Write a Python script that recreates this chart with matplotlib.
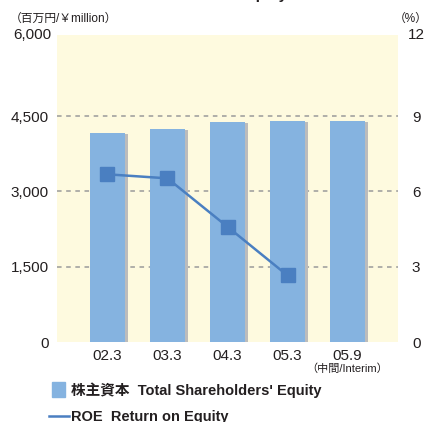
import numpy as np
import matplotlib.pyplot as plt
from matplotlib.patches import Rectangle
from matplotlib.lines import Line2D

plt.rcParams['font.family'] = ['Liberation Sans', 'Noto Sans CJK JP']

periods = ['02.3', '03.3', '04.3', '05.3', '05.9']
equity = [4170, 4250, 4380, 4400, 4400]     # 百万円
roe = [6.68, 6.52, 4.59, 2.65]              # %
left_ticks = [0, 1500, 3000, 4500, 6000]
right_ticks = [0, 3, 6, 9, 12]

bar_col = '#85b3e0'
shadow_col = '#bcbcbc'
line_col = '#4a7fc1'
bg_col = '#fefadf'
txt_col = '#231f20'

fig = plt.figure(figsize=(4.30, 4.22), dpi=100)
ax = fig.add_axes([57 / 430, 1 - 342 / 422, 341 / 430, 307 / 422])
ax.set_facecolor(bg_col)
ytop = 6115
ax.set_ylim(0, ytop)
ax.set_xlim(-0.84, 4.84)
x = np.arange(len(periods))

for g in left_ticks[1:-1]:
    ax.axhline(g, color='#9a9a9a', lw=1.1, ls=(0, (3, 3)), zorder=1)

ax.bar(x + 0.05, np.array(equity) - 20, width=0.583, color=shadow_col, zorder=2)
ax.bar(x, equity, width=0.583, color=bar_col, zorder=3)

for s in ax.spines.values():
    s.set_visible(False)
ax.set_xticks(x)
ax.set_xticklabels(periods, fontsize=11, color=txt_col)
ax.set_yticks(left_ticks[:-1])
ax.set_yticklabels(['0'] + ['{:,}'.format(v) for v in left_ticks[1:-1]],
                   fontsize=11, color=txt_col)
ax.tick_params(length=0, pad=6)
ax.tick_params(axis='x', pad=5)
ax.text(-0.016, 1.0, '{:,}'.format(left_ticks[-1]), transform=ax.transAxes,
        ha='right', va='center', fontsize=11, color=txt_col)

ax2 = ax.twinx()
ax2.set_ylim(0, 12 * ytop / 6000)
for s in ax2.spines.values():
    s.set_visible(False)
ax2.set_yticks(right_ticks[:-1])
ax2.set_yticklabels([str(v) for v in right_ticks[:-1]], fontsize=11, color=txt_col)
ax2.tick_params(length=0, pad=10)
ax2.text(1.03, 1.0, str(right_ticks[-1]), transform=ax.transAxes,
         ha='left', va='center', fontsize=11, color=txt_col)
ax2.plot(x[:len(roe)], roe, color=line_col, lw=1.8, marker='s', markersize=9.5,
         zorder=5)

ax.text(4, -0.088, '（中間/Interim）', transform=ax.get_xaxis_transform(),
        ha='center', va='center', fontsize=8, color=txt_col)

fig.text(10 / 430, 1 - 19 / 422, '（百万円/￥million）', fontsize=8.5, color=txt_col,
         va='center', ha='left')
fig.text(428 / 430, 1 - 19 / 422, '（%）', fontsize=8.5, color=txt_col,
         va='center', ha='right')
fig.text(287 / 430, 1 + 1.5 / 422, "Total Shareholders' Equity", fontsize=11,
         fontweight='bold', ha='right', va='baseline', color=txt_col)

# legend
fig.patches.append(Rectangle((52 / 430, 1 - 397 / 422), 13 / 430, 15 / 422,
                             transform=fig.transFigure, color=bar_col))
fig.text(71 / 430, 1 - 390 / 422, "株主資本  Total Shareholders' Equity",
         fontsize=10.5, fontweight='bold', va='center', ha='left', color=txt_col)
fig.lines.append(Line2D([49 / 430, 69 / 430], [1 - 416 / 422, 1 - 416 / 422],
                        transform=fig.transFigure, color=line_col, lw=1.8))
fig.text(71 / 430, 1 - 417 / 422, 'ROE  Return on Equity',
         fontsize=10.5, fontweight='bold', va='center', ha='left', color=txt_col)

fig.savefig('out.png', dpi=100)
